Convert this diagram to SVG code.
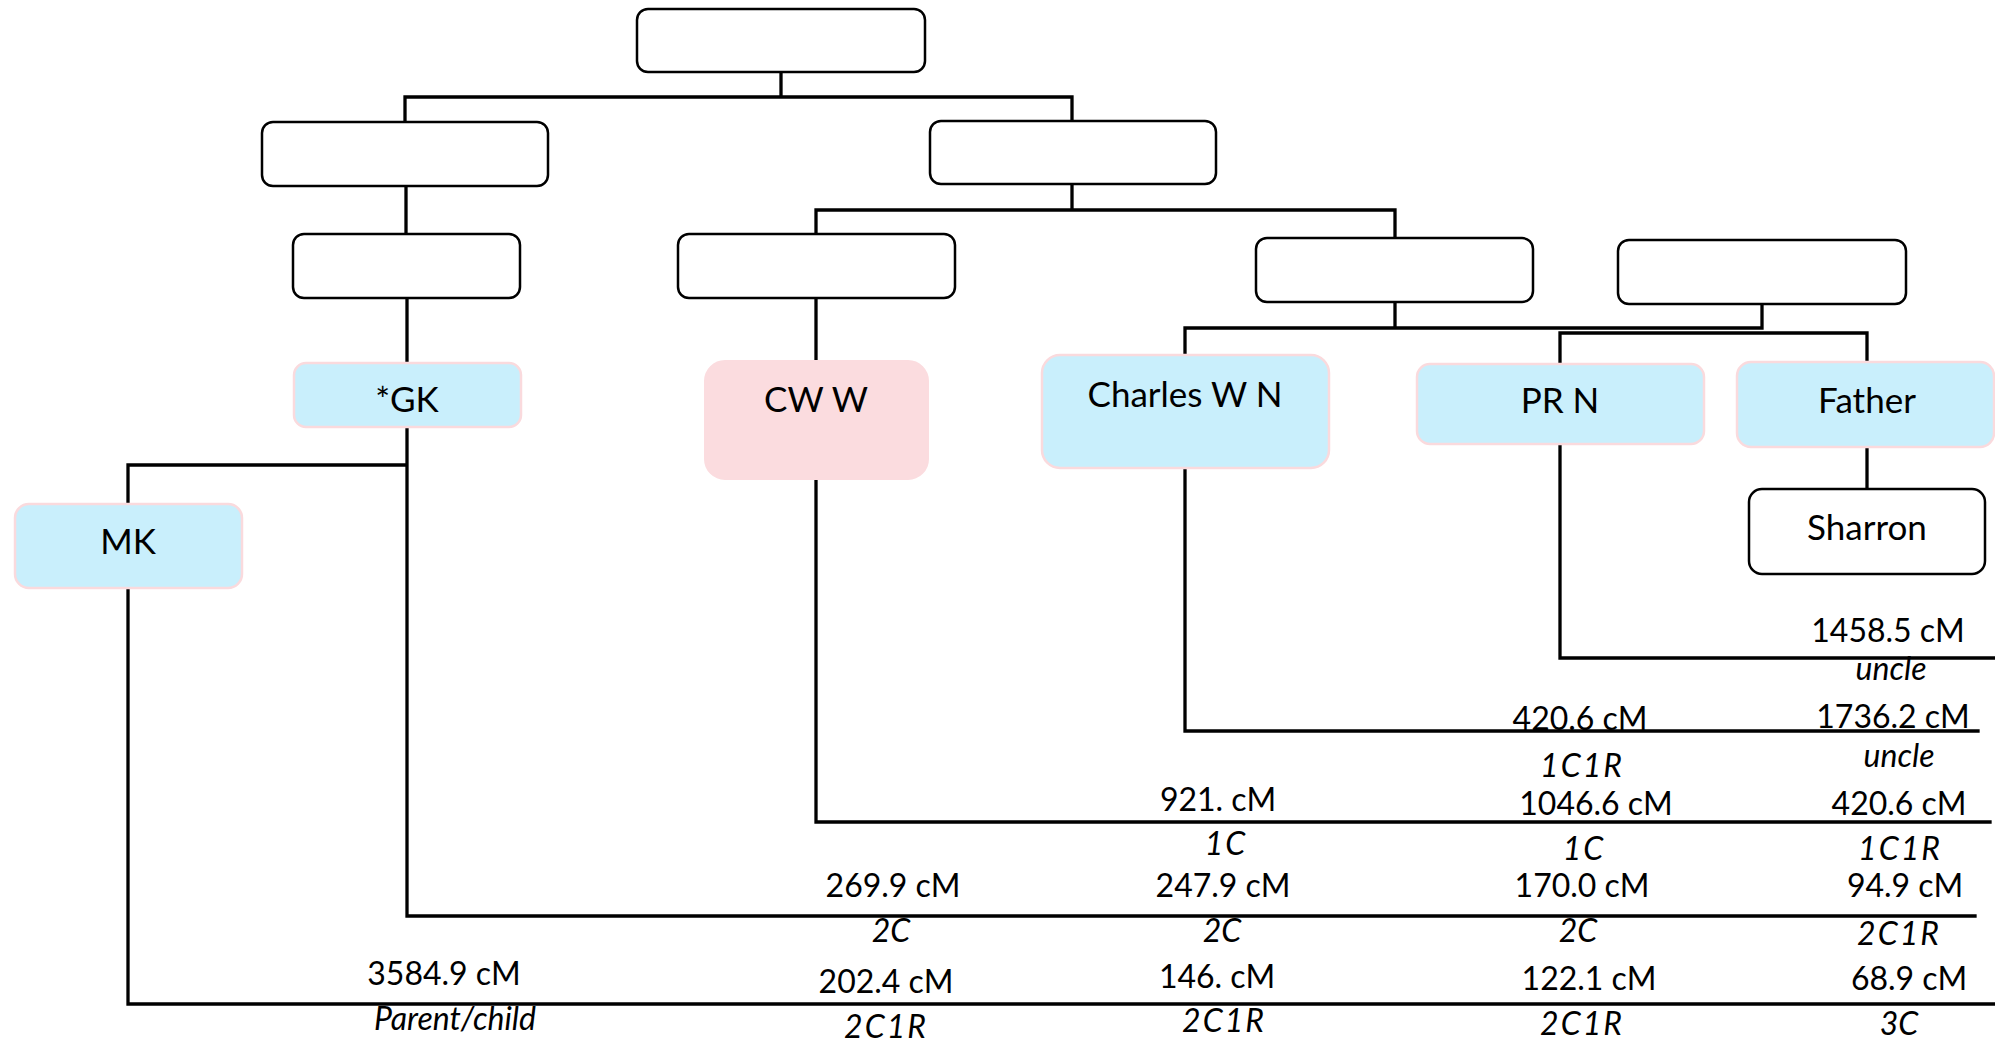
<svg xmlns="http://www.w3.org/2000/svg" width="1995" height="1042" viewBox="0 0 1995 1042">
<style>
.blank{fill:#ffffff;stroke:#000000;stroke-width:2.5}
.blue{fill:#C9EFFC;stroke:#FADADD;stroke-width:2.5}
.pink{fill:#FBDCDF;stroke:#FBDCDF;stroke-width:2}
.wire{fill:none;stroke:#000000;stroke-width:3.3;stroke-linejoin:miter;stroke-linecap:square}
text{font-family:Lato,"Open Sans","Liberation Sans",sans-serif;font-size:32px;fill:#000000;text-anchor:middle}
.nm{font-size:35px}
.it{font-style:italic}
.sp{letter-spacing:2px}
</style>
<rect width="1995" height="1042" fill="#ffffff"/>
<g id="connectors">
<path class="wire" d="M781,72 V97 M405,122 V97 H1072 V121"/>
<path class="wire" d="M406,186 V234 M407,298 V363"/>
<path class="wire" d="M1072,184 V210 M816,234 V210 H1395 V238"/>
<path class="wire" d="M1395,302 V328 M1185,355 V328 H1762 V304"/>
<path class="wire" d="M1560,364 V333 H1867 V362"/>
<path class="wire" d="M1867,447 V489"/>
<path class="wire" d="M407,427 V916 H1975 M407,465 H128 V504"/>
<path class="wire" d="M128,588 V1004 H1995"/>
<path class="wire" d="M816,298 V361 M816,479 V822 H1990"/>
<path class="wire" d="M1185,468 V731 H1978"/>
<path class="wire" d="M1560,444 V658 H1995"/>
</g>
<g id="n-top"><rect class="blank" x="637" y="9" width="288" height="63" rx="11"/></g>
<g id="n-l2a"><rect class="blank" x="262" y="122" width="286" height="64" rx="11"/></g>
<g id="n-l2b"><rect class="blank" x="930" y="121" width="286" height="63" rx="11"/></g>
<g id="n-l3a"><rect class="blank" x="293" y="234" width="227" height="64" rx="11"/></g>
<g id="n-l3b"><rect class="blank" x="678" y="234" width="277" height="64" rx="11"/></g>
<g id="n-l3c"><rect class="blank" x="1256" y="238" width="277" height="64" rx="11"/></g>
<g id="n-l3d"><rect class="blank" x="1618" y="240" width="288" height="64" rx="11"/></g>
<g id="n-gk"><rect class="blue" x="294" y="363" width="227" height="64" rx="12"/><text class="nm" x="407" y="412">*GK</text></g>
<g id="n-mk"><rect class="blue" x="15" y="504" width="227" height="84" rx="14"/><text class="nm" x="128" y="554">MK</text></g>
<g id="n-cww"><rect class="pink" x="705" y="361" width="223" height="118" rx="20"/><text class="nm" x="816" y="412">CW W</text></g>
<g id="n-charles"><rect class="blue" x="1042" y="355" width="287" height="113" rx="18"/><text class="nm" x="1185" y="407">Charles W N</text></g>
<g id="n-prn"><rect class="blue" x="1417" y="364" width="287" height="80" rx="13"/><text class="nm" x="1560" y="413">PR N</text></g>
<g id="n-father"><rect class="blue" x="1737" y="362" width="257" height="85" rx="14"/><text class="nm" x="1867" y="413">Father</text></g>
<g id="n-sharron"><rect class="blank" x="1749" y="489" width="236" height="85" rx="13"/><text class="nm" x="1867" y="540">Sharron</text></g>
<g id="labels">
<text x="1888" y="642">1458.5 cM</text>
<text class="it" x="1891" y="680">uncle</text>
<text x="1580" y="730">420.6 cM</text>
<text x="1893" y="728">1736.2 cM</text>
<text class="it sp" x="1582" y="777">1C1R</text>
<text class="it" x="1899" y="767">uncle</text>
<text x="1596" y="815">1046.6 cM</text>
<text x="1899" y="815">420.6 cM</text>
<text class="it sp" x="1584" y="860">1C</text>
<text class="it sp" x="1900" y="860">1C1R</text>
<text x="1582" y="897">170.0 cM</text>
<text x="1905" y="897">94.9 cM</text>
<text class="it" x="1578" y="942">2C</text>
<text class="it sp" x="1899" y="945">2C1R</text>
<text x="1589" y="990">122.1 cM</text>
<text x="1909" y="990">68.9 cM</text>
<text class="it sp" x="1582" y="1035">2C1R</text>
<text class="it" x="1899" y="1035">3C</text>
<text x="1218" y="811">921. cM</text>
<text class="it sp" x="1226" y="855">1C</text>
<text x="893" y="897">269.9 cM</text>
<text x="1223" y="897">247.9 cM</text>
<text class="it" x="891" y="942">2C</text>
<text class="it" x="1222" y="942">2C</text>
<text x="886" y="993">202.4 cM</text>
<text x="1217" y="988">146. cM</text>
<text class="it sp" x="886" y="1038">2C1R</text>
<text class="it sp" x="1224" y="1032">2C1R</text>
<text x="444" y="985">3584.9 cM</text>
<text class="it" x="455" y="1030">Parent/child</text>
</g>
</svg>
